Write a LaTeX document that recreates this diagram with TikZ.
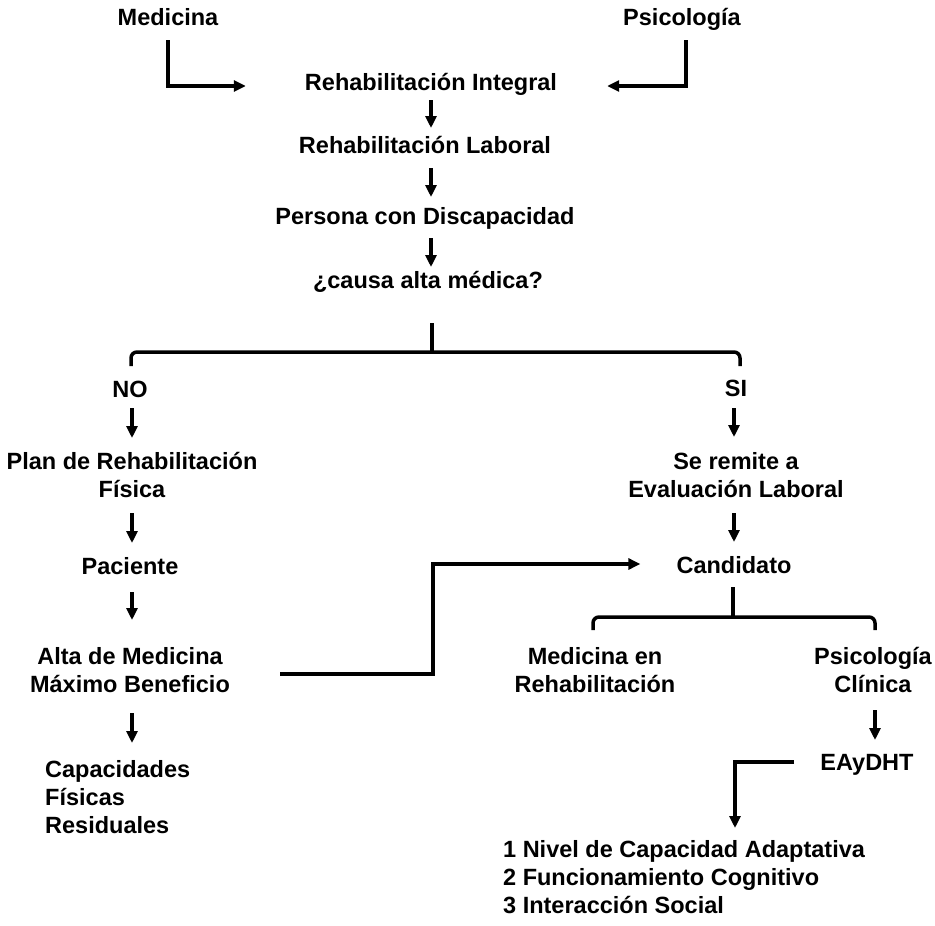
\documentclass[tikz,border=0pt]{standalone}
\usepackage{fontspec}
\setmainfont{Liberation Sans}
\usetikzlibrary{arrows.meta,calc}
\begin{document}
\begin{tikzpicture}[x=1pt,y=-1pt,
  lbl/.style={font=\fontsize{23.5}{28}\selectfont\bfseries, inner sep=0pt, anchor=base, align=center},
  lbll/.style={lbl, anchor=base west, align=left},
  conn/.style={line width=3.5pt},
  arr/.style={conn, -{Triangle[length=12pt,width=11pt]}},
  brace/.style={conn, rounded corners=6pt}]
\fill[white] (0,0) rectangle (935,926);
\useasboundingbox (0,0) rectangle (935,926);

% nodes (base = baseline of the last line)
\node[lbl] (med) at (168,25) {Medicina};
\node[lbl] (psi) at (682,25) {Psicología};
\node[lbl] (integ) at (431,90) {Rehabilitación Integral};
\node[lbl] (lab) at (425,153) {Rehabilitación Laboral};
\node[lbl] (pers) at (425,224) {Persona con Discapacidad};
\node[lbl] (causa) at (428,288) {¿causa alta médica?};
\node[lbl] (no) at (130,397) {NO};
\node[lbl] (si) at (736,396) {SI};
\node[lbl] (plan) at (132,497) {Plan de Rehabilitación\\Física};
\node[lbl] (pac) at (130,574) {Paciente};
\node[lbl] (alta) at (130,692) {Alta de Medicina\\Máximo Beneficio};
\node[lbll] (capac) at (45,833) {Capacidades\\Físicas\\Residuales};
\node[lbl] (remite) at (736,497) {Se remite a\\Evaluación Laboral};
\node[lbl] (cand) at (734,573) {Candidato};
\node[lbl] (medreh) at (595,692) {Medicina en\\Rehabilitación};
\node[lbl] (psicl) at (873,692) {Psicología\\Clínica};
\node[lbl] (eay) at (867,770) {EAyDHT};
\node[lbll] (list) at (503,913) {1 Nivel de Capacidad Adaptativa\\2 Funcionamiento Cognitivo\\3 Interacción Social};

% top elbows
\draw[arr] ($(med.base)+(0,15)$) |- ($(integ.base west)+(-59,-4)$);
\draw[arr] ($(psi.base)+(4,15)$) |- ($(integ.base east)+(50,-4)$);

% central chain
\draw[arr] ($(integ.base)+(0,10)$) -- ($(integ.base |- lab.base)+(0,-25)$);
\draw[arr] ($(integ.base |- lab.base)+(0,15)$) -- ($(integ.base |- pers.base)+(0,-27)$);
\draw[arr] ($(integ.base |- pers.base)+(0,14)$) -- ($(integ.base |- causa.base)+(0,-21)$);

% first brace
\draw[conn] ($(causa.base)+(4,35)$) -- ($(causa.base)+(4,64)$);
\draw[brace] ($(no.base)+(1,-31)$) |- ($(causa.base)+(4,64)$) -| ($(si.base)+(4,-30)$);

% left column
\draw[arr] ($(no.base)+(2,11)$) -- ($(no.base |- plan.base)+(2,-59)$);
\draw[arr] ($(plan.base)+(0,16)$) -- ($(plan.base |- pac.base)+(0,-31)$);
\draw[arr] ($(plan.base |- pac.base)+(0,18)$) -- ($(plan.base |- alta.base)+(0,-72)$);
\draw[arr] ($(plan.base |- alta.base)+(0,21)$) -- ($(plan.base |- capac.base)+(0,-90)$);

% right column
\draw[arr] ($(si.base)+(-2,12)$) -- ($(si.base |- remite.base)+(-2,-60)$);
\draw[arr] ($(remite.base)+(-2,16)$) -- ($(remite.base |- cand.base)+(-2,-31)$);

% Alta -> Candidato
\draw[arr] ($(alta.base)+(150,-18)$) -- ++(153,0) |- ($(cand.base west)+(-36,-9)$);

% second brace
\draw[conn] ($(cand.base)+(-1,14)$) -- ($(cand.base)+(-1,44)$);
\draw[brace] ($(medreh.base)+(-2,-62)$) |- ($(cand.base)+(-1,44)$) -| ($(psicl.base)+(2,-62)$);

% psicologia clinica -> EAyDHT -> list
\draw[arr] ($(psicl.base)+(2,18)$) -- ($(psicl.base |- eay.base)+(2,-30)$);
\draw[arr] ($(eay.base west)+(-26,-8)$) -| ($(list.base west)+(232,-85)$);
\end{tikzpicture}
\end{document}
